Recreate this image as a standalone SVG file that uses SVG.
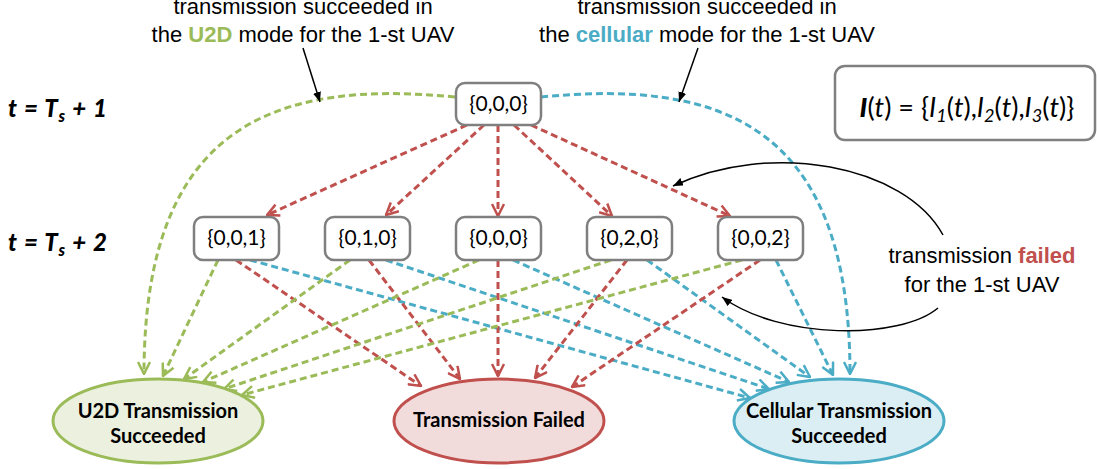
<svg xmlns="http://www.w3.org/2000/svg" width="1097" height="469" viewBox="0 0 1097 469">
<style>
.box{fill:#fff;stroke:#7F7F7F;stroke-width:2.5}
.nt{font-family:Lato,"Liberation Sans",sans-serif;font-size:21px;fill:#000;text-anchor:middle}
.et{font-family:Lato,"Liberation Sans",sans-serif;font-size:20px;font-weight:bold;fill:#000;text-anchor:middle}
.at{font-family:"Liberation Sans",Arial,sans-serif;font-size:22px;fill:#000;text-anchor:middle}
.lt{font-family:Lato,"Liberation Sans",sans-serif;font-size:24px;font-weight:900;font-style:italic;fill:#000}
.g{fill:none;stroke:#9BBB59;stroke-width:3;stroke-dasharray:7 4;marker-end:url(#mg)}
.r{fill:none;stroke:#C0504D;stroke-width:3;stroke-dasharray:7 4;marker-end:url(#mr)}
.b{fill:none;stroke:#4BACC6;stroke-width:3;stroke-dasharray:7 4;marker-end:url(#mb)}
.k{fill:none;stroke:#000;stroke-width:1.5;marker-end:url(#mk)}
</style>
<defs>
<marker id="mg" viewBox="0 0 14 14" refX="13" refY="7" markerWidth="14" markerHeight="14" markerUnits="userSpaceOnUse" orient="auto"><path d="M1,1 L13,7 L1,13" fill="none" stroke="#9BBB59" stroke-width="2.5"/></marker>
<marker id="mr" viewBox="0 0 14 14" refX="13" refY="7" markerWidth="14" markerHeight="14" markerUnits="userSpaceOnUse" orient="auto"><path d="M1,1 L13,7 L1,13" fill="none" stroke="#C0504D" stroke-width="2.5"/></marker>
<marker id="mb" viewBox="0 0 14 14" refX="13" refY="7" markerWidth="14" markerHeight="14" markerUnits="userSpaceOnUse" orient="auto"><path d="M1,1 L13,7 L1,13" fill="none" stroke="#4BACC6" stroke-width="2.5"/></marker>
<marker id="mk" viewBox="0 0 10 8" refX="10" refY="4" markerWidth="10" markerHeight="8" markerUnits="userSpaceOnUse" orient="auto"><path d="M0,0 L10,4 L0,8 Z" fill="#000"/></marker>
</defs>
<rect width="1097" height="469" fill="#fff"/>

<g id="connectors">
<path class="g" d="M455,97 C280,80 144,120 144,374"/>
<path class="b" d="M541,97 C716,80 850,120 850,374"/>
<path class="r" d="M467,125 L267,215"/>
<path class="r" d="M484,125 L386,215"/>
<path class="r" d="M498,125 L498,216"/>
<path class="r" d="M514,125 L612,216"/>
<path class="r" d="M531,125 L730,216"/>
<path class="g" d="M218,260 L163,376"/>
<path class="r" d="M236,260 L421,386"/>
<path class="b" d="M250,260 L750,398"/>
<path class="g" d="M350,260 L184,379"/>
<path class="r" d="M369,260 L460,379"/>
<path class="b" d="M386,260 L769,389"/>
<path class="g" d="M479,260 L203,382"/>
<path class="r" d="M498,260 L498,376"/>
<path class="b" d="M513,260 L789,382"/>
<path class="g" d="M611,260 L224,389"/>
<path class="r" d="M627,260 L535,378"/>
<path class="b" d="M647,260 L810,377"/>
<path class="g" d="M742,260 L242,395"/>
<path class="r" d="M760,260 L572,387"/>
<path class="b" d="M776,260 L833,375"/>
<path class="k" d="M303,48 L320,102"/>
<path class="k" d="M698,48 L679,102"/>
<path class="k" d="M943,235 C905,165 770,140 673,186"/>
<path class="k" d="M938,308 C900,340 780,340 722,297"/>
</g>

<g id="label-t1"><text class="lt" x="8" y="117" textLength="99">t = T<tspan font-size="16" dy="5">s</tspan><tspan dy="-5"> + 1</tspan></text></g>
<g id="label-t2"><text class="lt" x="8" y="251" textLength="99">t = T<tspan font-size="16" dy="5">s</tspan><tspan dy="-5"> + 2</tspan></text></g>

<g id="note-u2d"><text class="at" x="303" y="14">transmission succeeded in</text><text class="at" x="303" y="42">the <tspan font-weight="bold" fill="#9BBB59">U2D</tspan> mode for the 1-st UAV</text></g>
<g id="note-cell"><text class="at" x="707" y="14">transmission succeeded in</text><text class="at" x="707" y="42">the <tspan font-weight="bold" fill="#4BACC6">cellular</tspan> mode for the 1-st UAV</text></g>
<g id="note-failed"><text class="at" x="982" y="263">transmission <tspan font-weight="bold" fill="#C0504D">failed</tspan></text><text class="at" x="982" y="292">for the 1-st UAV</text></g>

<g id="formula"><rect x="835" y="66" width="260" height="74" rx="10" class="box"/>
<text x="967" y="117" text-anchor="middle" font-family="Lato,'Liberation Sans',sans-serif" font-size="27"><tspan font-weight="900" font-style="italic">I</tspan>(<tspan font-style="italic">t</tspan>) = {<tspan font-style="italic">I</tspan><tspan font-style="italic" font-size="18" dy="5">1</tspan><tspan dy="-5">(</tspan><tspan font-style="italic">t</tspan>),<tspan font-style="italic">I</tspan><tspan font-style="italic" font-size="18" dy="5">2</tspan><tspan dy="-5">(</tspan><tspan font-style="italic">t</tspan>),<tspan font-style="italic">I</tspan><tspan font-style="italic" font-size="18" dy="5">3</tspan><tspan dy="-5">(</tspan><tspan font-style="italic">t</tspan>)}</text></g>

<g id="n-top"><rect x="456" y="83" width="85" height="42" rx="9" class="box"/><text class="nt" x="498.5" y="111">{0,0,0}</text></g>
<g id="n-001"><rect x="194" y="217" width="85" height="43" rx="9" class="box"/><text class="nt" x="236.5" y="245">{0,0,1}</text></g>
<g id="n-010"><rect x="325" y="217" width="85" height="43" rx="9" class="box"/><text class="nt" x="367.5" y="245">{0,1,0}</text></g>
<g id="n-000"><rect x="456" y="217" width="85" height="43" rx="9" class="box"/><text class="nt" x="498.5" y="245">{0,0,0}</text></g>
<g id="n-020"><rect x="587" y="217" width="85" height="43" rx="9" class="box"/><text class="nt" x="629.5" y="245">{0,2,0}</text></g>
<g id="n-002"><rect x="718" y="217" width="85" height="43" rx="9" class="box"/><text class="nt" x="760.5" y="245">{0,0,2}</text></g>

<g id="e-u2d"><ellipse cx="158" cy="421" rx="105" ry="42" fill="#EBF1DE" stroke="#9BBB59" stroke-width="3"/><text class="et" x="158" y="418">U2D Transmission</text><text class="et" x="158" y="443">Succeeded</text></g>
<g id="e-failed"><ellipse cx="499" cy="421" rx="105" ry="42" fill="#F2DCDB" stroke="#C0504D" stroke-width="3"/><text class="et" x="499" y="427">Transmission Failed</text></g>
<g id="e-cell"><ellipse cx="839" cy="421" rx="105" ry="42" fill="#DAEEF3" stroke="#4BACC6" stroke-width="3"/><text class="et" x="839" y="418">Cellular Transmission</text><text class="et" x="839" y="443">Succeeded</text></g>
</svg>
